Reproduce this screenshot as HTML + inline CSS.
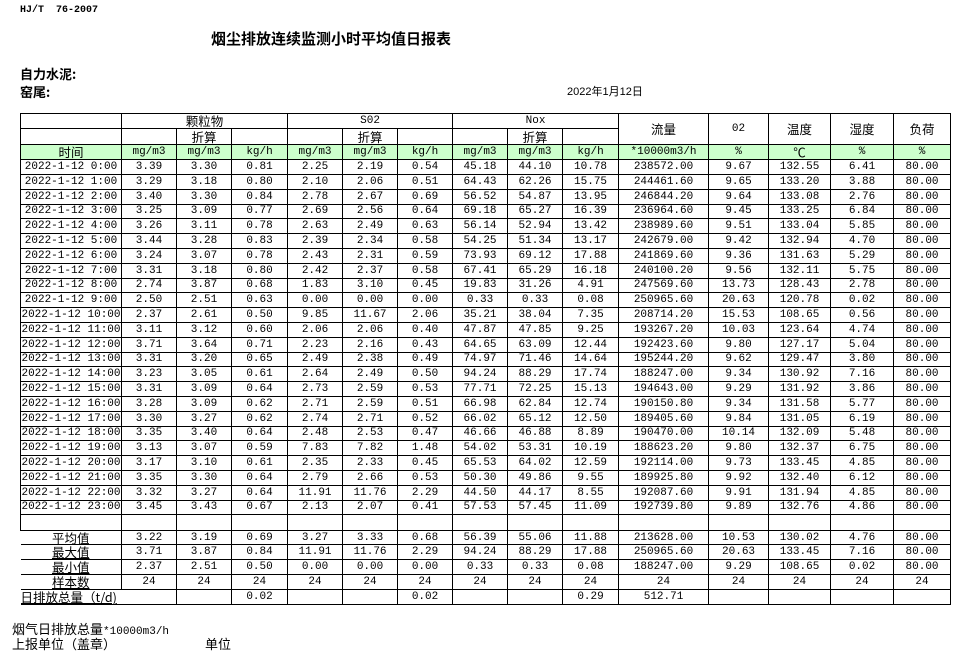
<!DOCTYPE html>
<html><head><meta charset="utf-8">
<style>
body{margin:0;width:978px;height:658px;background:#fff;position:relative;overflow:hidden;font-family:"Liberation Sans","Noto Sans CJK SC",sans-serif;color:#000}
.a{position:absolute;white-space:nowrap}
table{position:absolute;left:20px;top:113px;width:930px;border-collapse:collapse;table-layout:fixed;font-size:11px;font-family:"Liberation Mono","Noto Sans CJK SC",monospace}
td{border:1px solid #000;padding:0;text-align:center;line-height:12px;overflow:hidden;white-space:nowrap}
tr.d td{height:13.8px}
tr.h td{height:14.4px}
.g td{background:#ccffcc}
.cn{font-family:"Noto Sans CJK SC",sans-serif;font-size:12.5px;line-height:12px}
.u{text-decoration:underline}
</style></head><body>
<div class="a" style="left:20px;top:5px;font:bold 10px 'Liberation Mono',monospace">HJ/T&nbsp;&nbsp;76-2007</div>
<div class="a" style="left:211px;top:28px;font-weight:bold;font-size:15px;font-family:'Noto Sans CJK SC',sans-serif">烟尘排放连续监测小时平均值日报表</div>
<div class="a" style="left:20px;top:64px;font-weight:bold;font-size:13px;font-family:'Noto Sans CJK SC',sans-serif">自力水泥:</div>
<div class="a" style="left:20px;top:82px;font-weight:bold;font-size:13px;font-family:'Noto Sans CJK SC',sans-serif">窑尾:</div>
<div class="a" style="left:567px;top:83px;font-size:11px;font-family:'Liberation Sans','Noto Sans CJK SC',sans-serif">2022年1月12日</div>
<table>
<colgroup><col style="width:101px"><col style="width:55px"><col style="width:55px"><col style="width:56px"><col style="width:55px"><col style="width:55px"><col style="width:55px"><col style="width:55px"><col style="width:55px"><col style="width:56px"><col style="width:90px"><col style="width:60px"><col style="width:62px"><col style="width:63px"><col style="width:57px"></colgroup>
<tr class="h"><td></td><td colspan="3" class="cn">颗粒物</td><td colspan="3">S02</td><td colspan="3">Nox</td><td rowspan="2" class="cn">流量</td><td rowspan="2">02</td><td rowspan="2" class="cn">温度</td><td rowspan="2" class="cn">湿度</td><td rowspan="2" class="cn">负荷</td></tr>
<tr class="h"><td></td><td></td><td class="cn">折算</td><td></td><td></td><td class="cn">折算</td><td></td><td></td><td class="cn">折算</td><td></td></tr>
<tr class="h g"><td class="cn">时间</td><td>mg/m3</td><td>mg/m3</td><td>kg/h</td><td>mg/m3</td><td>mg/m3</td><td>kg/h</td><td>mg/m3</td><td>mg/m3</td><td>kg/h</td><td>*10000m3/h</td><td>%</td><td class="cn">℃</td><td>%</td><td>%</td></tr>
<tr class="d"><td>2022-1-12 0:00</td><td>3.39</td><td>3.30</td><td>0.81</td><td>2.25</td><td>2.19</td><td>0.54</td><td>45.18</td><td>44.10</td><td>10.78</td><td>238572.00</td><td>9.67</td><td>132.55</td><td>6.41</td><td>80.00</td></tr>
<tr class="d"><td>2022-1-12 1:00</td><td>3.29</td><td>3.18</td><td>0.80</td><td>2.10</td><td>2.06</td><td>0.51</td><td>64.43</td><td>62.26</td><td>15.75</td><td>244461.60</td><td>9.65</td><td>133.20</td><td>3.88</td><td>80.00</td></tr>
<tr class="d"><td>2022-1-12 2:00</td><td>3.40</td><td>3.30</td><td>0.84</td><td>2.78</td><td>2.67</td><td>0.69</td><td>56.52</td><td>54.87</td><td>13.95</td><td>246844.20</td><td>9.64</td><td>133.08</td><td>2.76</td><td>80.00</td></tr>
<tr class="d"><td>2022-1-12 3:00</td><td>3.25</td><td>3.09</td><td>0.77</td><td>2.69</td><td>2.56</td><td>0.64</td><td>69.18</td><td>65.27</td><td>16.39</td><td>236964.60</td><td>9.45</td><td>133.25</td><td>6.84</td><td>80.00</td></tr>
<tr class="d"><td>2022-1-12 4:00</td><td>3.26</td><td>3.11</td><td>0.78</td><td>2.63</td><td>2.49</td><td>0.63</td><td>56.14</td><td>52.94</td><td>13.42</td><td>238989.60</td><td>9.51</td><td>133.04</td><td>5.85</td><td>80.00</td></tr>
<tr class="d"><td>2022-1-12 5:00</td><td>3.44</td><td>3.28</td><td>0.83</td><td>2.39</td><td>2.34</td><td>0.58</td><td>54.25</td><td>51.34</td><td>13.17</td><td>242679.00</td><td>9.42</td><td>132.94</td><td>4.70</td><td>80.00</td></tr>
<tr class="d"><td>2022-1-12 6:00</td><td>3.24</td><td>3.07</td><td>0.78</td><td>2.43</td><td>2.31</td><td>0.59</td><td>73.93</td><td>69.12</td><td>17.88</td><td>241869.60</td><td>9.36</td><td>131.63</td><td>5.29</td><td>80.00</td></tr>
<tr class="d"><td>2022-1-12 7:00</td><td>3.31</td><td>3.18</td><td>0.80</td><td>2.42</td><td>2.37</td><td>0.58</td><td>67.41</td><td>65.29</td><td>16.18</td><td>240100.20</td><td>9.56</td><td>132.11</td><td>5.75</td><td>80.00</td></tr>
<tr class="d"><td>2022-1-12 8:00</td><td>2.74</td><td>3.87</td><td>0.68</td><td>1.83</td><td>3.10</td><td>0.45</td><td>19.83</td><td>31.26</td><td>4.91</td><td>247569.60</td><td>13.73</td><td>128.43</td><td>2.78</td><td>80.00</td></tr>
<tr class="d"><td>2022-1-12 9:00</td><td>2.50</td><td>2.51</td><td>0.63</td><td>0.00</td><td>0.00</td><td>0.00</td><td>0.33</td><td>0.33</td><td>0.08</td><td>250965.60</td><td>20.63</td><td>120.78</td><td>0.02</td><td>80.00</td></tr>
<tr class="d"><td>2022-1-12 10:00</td><td>2.37</td><td>2.61</td><td>0.50</td><td>9.85</td><td>11.67</td><td>2.06</td><td>35.21</td><td>38.04</td><td>7.35</td><td>208714.20</td><td>15.53</td><td>108.65</td><td>0.56</td><td>80.00</td></tr>
<tr class="d"><td>2022-1-12 11:00</td><td>3.11</td><td>3.12</td><td>0.60</td><td>2.06</td><td>2.06</td><td>0.40</td><td>47.87</td><td>47.85</td><td>9.25</td><td>193267.20</td><td>10.03</td><td>123.64</td><td>4.74</td><td>80.00</td></tr>
<tr class="d"><td>2022-1-12 12:00</td><td>3.71</td><td>3.64</td><td>0.71</td><td>2.23</td><td>2.16</td><td>0.43</td><td>64.65</td><td>63.09</td><td>12.44</td><td>192423.60</td><td>9.80</td><td>127.17</td><td>5.04</td><td>80.00</td></tr>
<tr class="d"><td>2022-1-12 13:00</td><td>3.31</td><td>3.20</td><td>0.65</td><td>2.49</td><td>2.38</td><td>0.49</td><td>74.97</td><td>71.46</td><td>14.64</td><td>195244.20</td><td>9.62</td><td>129.47</td><td>3.80</td><td>80.00</td></tr>
<tr class="d"><td>2022-1-12 14:00</td><td>3.23</td><td>3.05</td><td>0.61</td><td>2.64</td><td>2.49</td><td>0.50</td><td>94.24</td><td>88.29</td><td>17.74</td><td>188247.00</td><td>9.34</td><td>130.92</td><td>7.16</td><td>80.00</td></tr>
<tr class="d"><td>2022-1-12 15:00</td><td>3.31</td><td>3.09</td><td>0.64</td><td>2.73</td><td>2.59</td><td>0.53</td><td>77.71</td><td>72.25</td><td>15.13</td><td>194643.00</td><td>9.29</td><td>131.92</td><td>3.86</td><td>80.00</td></tr>
<tr class="d"><td>2022-1-12 16:00</td><td>3.28</td><td>3.09</td><td>0.62</td><td>2.71</td><td>2.59</td><td>0.51</td><td>66.98</td><td>62.84</td><td>12.74</td><td>190150.80</td><td>9.34</td><td>131.58</td><td>5.77</td><td>80.00</td></tr>
<tr class="d"><td>2022-1-12 17:00</td><td>3.30</td><td>3.27</td><td>0.62</td><td>2.74</td><td>2.71</td><td>0.52</td><td>66.02</td><td>65.12</td><td>12.50</td><td>189405.60</td><td>9.84</td><td>131.05</td><td>6.19</td><td>80.00</td></tr>
<tr class="d"><td>2022-1-12 18:00</td><td>3.35</td><td>3.40</td><td>0.64</td><td>2.48</td><td>2.53</td><td>0.47</td><td>46.66</td><td>46.88</td><td>8.89</td><td>190470.00</td><td>10.14</td><td>132.09</td><td>5.48</td><td>80.00</td></tr>
<tr class="d"><td>2022-1-12 19:00</td><td>3.13</td><td>3.07</td><td>0.59</td><td>7.83</td><td>7.82</td><td>1.48</td><td>54.02</td><td>53.31</td><td>10.19</td><td>188623.20</td><td>9.80</td><td>132.37</td><td>6.75</td><td>80.00</td></tr>
<tr class="d"><td>2022-1-12 20:00</td><td>3.17</td><td>3.10</td><td>0.61</td><td>2.35</td><td>2.33</td><td>0.45</td><td>65.53</td><td>64.02</td><td>12.59</td><td>192114.00</td><td>9.73</td><td>133.45</td><td>4.85</td><td>80.00</td></tr>
<tr class="d"><td>2022-1-12 21:00</td><td>3.35</td><td>3.30</td><td>0.64</td><td>2.79</td><td>2.66</td><td>0.53</td><td>50.30</td><td>49.86</td><td>9.55</td><td>189925.80</td><td>9.92</td><td>132.40</td><td>6.12</td><td>80.00</td></tr>
<tr class="d"><td>2022-1-12 22:00</td><td>3.32</td><td>3.27</td><td>0.64</td><td>11.91</td><td>11.76</td><td>2.29</td><td>44.50</td><td>44.17</td><td>8.55</td><td>192087.60</td><td>9.91</td><td>131.94</td><td>4.85</td><td>80.00</td></tr>
<tr class="d"><td>2022-1-12 23:00</td><td>3.45</td><td>3.43</td><td>0.67</td><td>2.13</td><td>2.07</td><td>0.41</td><td>57.53</td><td>57.45</td><td>11.09</td><td>192739.80</td><td>9.89</td><td>132.76</td><td>4.86</td><td>80.00</td></tr>
<tr class="h"><td></td><td></td><td></td><td></td><td></td><td></td><td></td><td></td><td></td><td></td><td></td><td></td><td></td><td></td><td></td></tr>
<tr class="d"><td class="cn u" style="border-left:none">平均值</td><td>3.22</td><td>3.19</td><td>0.69</td><td>3.27</td><td>3.33</td><td>0.68</td><td>56.39</td><td>55.06</td><td>11.88</td><td>213628.00</td><td>10.53</td><td>130.02</td><td>4.76</td><td>80.00</td></tr>
<tr class="d"><td class="cn u" style="border-left:none">最大值</td><td>3.71</td><td>3.87</td><td>0.84</td><td>11.91</td><td>11.76</td><td>2.29</td><td>94.24</td><td>88.29</td><td>17.88</td><td>250965.60</td><td>20.63</td><td>133.45</td><td>7.16</td><td>80.00</td></tr>
<tr class="d"><td class="cn u" style="border-left:none">最小值</td><td>2.37</td><td>2.51</td><td>0.50</td><td>0.00</td><td>0.00</td><td>0.00</td><td>0.33</td><td>0.33</td><td>0.08</td><td>188247.00</td><td>9.29</td><td>108.65</td><td>0.02</td><td>80.00</td></tr>
<tr class="d"><td class="cn u" style="border-left:none">样本数</td><td>24</td><td>24</td><td>24</td><td>24</td><td>24</td><td>24</td><td>24</td><td>24</td><td>24</td><td>24</td><td>24</td><td>24</td><td>24</td><td>24</td></tr>
<tr class="d"><td colspan="2" class="cn u" style="border-left:none;text-align:left">日排放总量（t/d)</td><td></td><td>0.02</td><td></td><td></td><td>0.02</td><td></td><td></td><td>0.29</td><td>512.71</td><td></td><td></td><td></td><td></td></tr>
</table>
<div class="a" style="left:12px;top:619px;font-size:13px;font-family:'Noto Sans CJK SC',sans-serif">烟气日排放总量<span style="font-family:'Liberation Mono',monospace;font-size:11px">*10000m3/h</span></div>
<div class="a" style="left:12px;top:634px;font-size:13px;font-family:'Noto Sans CJK SC',sans-serif">上报单位（盖章）</div>
<div class="a" style="left:205px;top:634px;font-size:13px;font-family:'Noto Sans CJK SC',sans-serif">单位</div>
</body></html>
